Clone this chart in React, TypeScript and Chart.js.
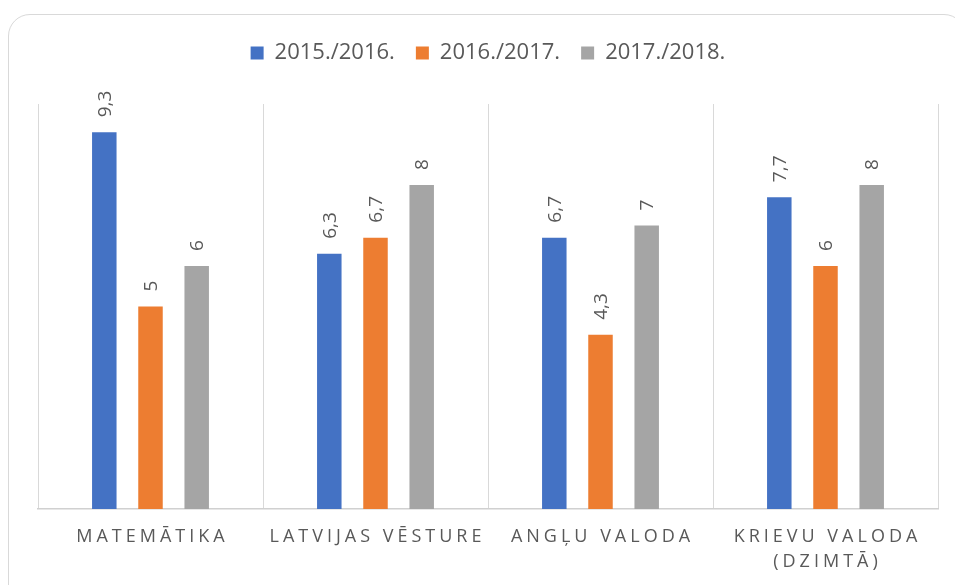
import React, { useEffect, useRef } from "react";
import { Chart, registerables } from "chart.js";

Chart.register(...registerables);

const categoryLines: string[][] = [
  ["MATEMĀTIKA"],
  ["LATVIJAS VĒSTURE"],
  ["ANGĻU VALODA"],
  ["KRIEVU VALODA", "(DZIMTĀ)"],
];
const seriesNames = ["2015./2016.", "2016./2017.", "2017./2018."];
const values2015 = [9.3, 6.3, 6.7, 7.7];
const values2016 = [5, 6.7, 4.3, 6];
const values2017 = [6, 8, 7, 8];
const seriesColors = ["#4472C4", "#ED7D31", "#A5A5A5"];
const yMin = 0;
const yMax = 10;

const TEXT = "#595959";
const FONT = "'Open Sans', 'DejaVu Sans', sans-serif";

const fmt = (v: number) => String(v).replace(".", ",");

const legendGap = {
  id: "legendGap",
  beforeInit(chart: any) {
    const legend = chart.legend;
    if (!legend) return;
    const orig = legend.fit;
    legend.fit = function () {
      orig.call(this);
      this.height += 30;
    };
  },
};

const barLabels = {
  id: "barLabels",
  afterDatasetsDraw(chart: any) {
    const ctx = chart.ctx;
    ctx.save();
    ctx.font = `19px ${FONT}`;
    ctx.fillStyle = TEXT;
    ctx.textAlign = "left";
    ctx.textBaseline = "middle";
    chart.data.datasets.forEach((ds: any, di: number) => {
      const meta = chart.getDatasetMeta(di);
      meta.data.forEach((bar: any, i: number) => {
        const { x, y } = bar.getProps(["x", "y"], true);
        ctx.save();
        ctx.translate(x + 1, y - 15);
        ctx.rotate(-Math.PI / 2);
        ctx.fillText(fmt(ds.data[i]), 0, 0);
        ctx.restore();
      });
    });
    ctx.restore();
  },
};

const categoryLabels = {
  id: "categoryLabels",
  afterDraw(chart: any) {
    const ctx = chart.ctx;
    const xs = chart.scales.x;
    const bottom = chart.chartArea.bottom;
    const spacing = 4;
    ctx.save();
    ctx.font = `18px ${FONT}`;
    ctx.fillStyle = TEXT;
    ctx.textAlign = "center";
    ctx.textBaseline = "middle";
    try {
      (ctx as any).letterSpacing = `${spacing}px`;
    } catch (e) {}
    categoryLines.forEach((lines, i) => {
      const cx = xs.getPixelForValue(i) + spacing / 2;
      lines.forEach((line, j) => {
        ctx.fillText(line, cx, bottom + 28 + j * 25);
      });
    });
    ctx.restore();
  },
};

export default function App() {
  const canvasRef = useRef<HTMLCanvasElement | null>(null);

  useEffect(() => {
    if (!canvasRef.current) return;
    const chart = new Chart(canvasRef.current, {
      type: "bar",
      data: {
        labels: categoryLines.map((l) => l.join(" ")),
        datasets: [values2015, values2016, values2017].map((vals, i) => ({
          label: seriesNames[i],
          data: vals,
          backgroundColor: seriesColors[i],
          borderWidth: 0,
          categoryPercentage: 0.616,
          barPercentage: 0.53,
        })),
      },
      options: {
        responsive: false,
        animation: false,
        devicePixelRatio: 1,
        layout: { padding: { left: 38, right: 17, top: 21, bottom: 76 } },
        plugins: {
          legend: {
            position: "top",
            labels: {
              boxWidth: 13,
              boxHeight: 13,
              padding: 21,
              color: TEXT,
              font: { family: FONT, size: 22 },
            },
          },
          tooltip: { enabled: false },
          title: { display: false },
        },
        scales: {
          x: {
            offset: true,
            ticks: { display: false },
            grid: {
              display: true,
              color: "#D9D9D9",
              lineWidth: 1,
              drawTicks: false,
              offset: true,
            },
            border: { display: true, color: "#D0D0D0", width: 1.5 },
          },
          y: {
            display: false,
            min: yMin,
            max: yMax,
          },
        },
      },
      plugins: [legendGap, barLabels, categoryLabels],
    });
    return () => chart.destroy();
  }, []);

  return (
    <div
      style={{
        position: "fixed",
        left: 0,
        top: 0,
        width: 955,
        height: 585,
        overflow: "hidden",
        background: "#ffffff",
      }}
    >
      <div
        style={{
          position: "absolute",
          left: 8,
          top: 14,
          width: 958,
          height: 620,
          border: "1px solid #D9D9D9",
          borderRadius: 22,
          boxSizing: "border-box",
        }}
      />
      <canvas
        ref={canvasRef}
        width={955}
        height={585}
        style={{ position: "absolute", left: 0, top: 0, width: 955, height: 585 }}
      />
    </div>
  );
}
